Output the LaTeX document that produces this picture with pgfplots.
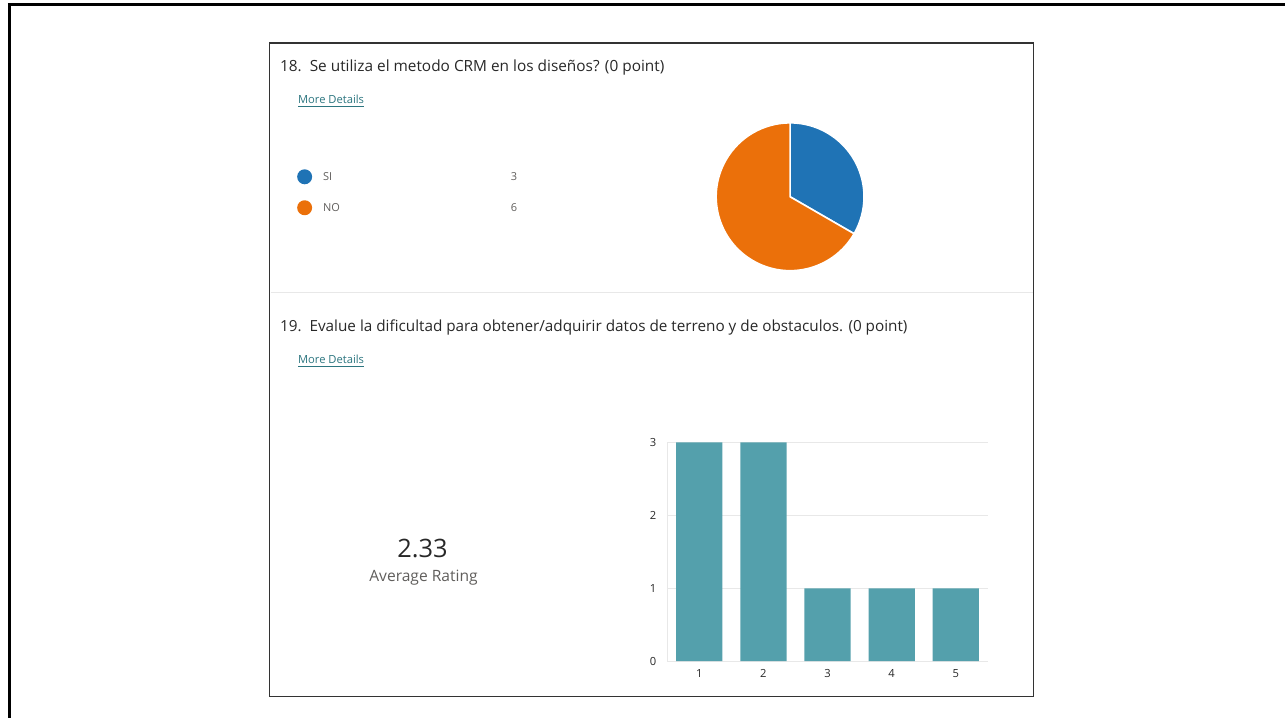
\documentclass[border=0pt]{standalone}
\usepackage{pgfplots}
\pgfplotsset{compat=1.18}
\usepackage{pgfplotstable}
\usepackage{fontspec}
\setmainfont{Open Sans}
\definecolor{pieblue}{RGB}{31,115,181}
\definecolor{pieorange}{RGB}{235,112,10}
\definecolor{barteal}{RGB}{84,160,172}
\definecolor{linkteal}{RGB}{45,118,128}
\definecolor{txtgray}{RGB}{96,94,92}
\definecolor{txtdark}{RGB}{40,40,40}
\definecolor{gridgray}{RGB}{232,232,232}

\pgfplotstableread{
label count
SI 3
NO 6
}\crmtable
\pgfplotstableread{
rating count
1 3
2 3
3 1
4 1
5 1
}\ratingtable

\begin{document}
\begin{tikzpicture}[x=0.5pt, y=-0.5pt]
\path (0,0) rectangle (1286,719);
% outer slide frame
\draw[line width=1.5pt] (8,5) -- (1286,5);
\draw[line width=1.5pt] (10,5) -- (10,719);
% form panel
\draw[line width=0.6pt, black!80] (270,43) rectangle (1035,697);
\draw[gridgray, line width=0.5pt] (271,293) -- (1034,293);
\coordinate (piec) at (791,197);
\coordinate (barsw) at (668,662);

% question 18
\node[anchor=base west, inner sep=0, txtdark, font=\fontsize{7.7}{9}\selectfont] at (280,72)
  {18.\ \ Se utiliza el metodo CRM en los diseños? (0 point)};
\node[anchor=base west, inner sep=0, linkteal, font=\fontsize{5.6}{7}\selectfont] at (298,104)
  {\underline{More Details}};
\fill[pieblue] (305,177) circle[radius=7.5];
\fill[pieorange] (305,208) circle[radius=7.5];
\node[anchor=base west, inner sep=0, txtgray, font=\fontsize{5.5}{6}\selectfont] at (323,181) {SI};
\node[anchor=base west, inner sep=0, txtgray, font=\fontsize{5.5}{6}\selectfont] at (323,212) {NO};
\node[anchor=base west, inner sep=0, txtgray, font=\fontsize{5.5}{6}\selectfont] at (511,181) {3};
\node[anchor=base west, inner sep=0, txtgray, font=\fontsize{5.5}{6}\selectfont] at (511,212) {6};

\pgfplotstablegetelem{0}{count}\of\crmtable \let\nsi\pgfplotsretval
\pgfplotstablegetelem{1}{count}\of\crmtable \let\nno\pgfplotsretval
\pgfmathsetmacro\asi{360*\nsi/(\nsi+\nno)}
\begin{axis}[at={(piec)}, anchor=center, scale only axis,
  width=74pt, height=74pt, xmin=-1, xmax=1, ymin=-1, ymax=1,
  axis lines=none, clip=false]
  \filldraw[pieblue, draw=white, line width=0.8pt] (axis cs:0,0) -- ++(90:37pt)
    arc[start angle=90, end angle={90-\asi}, radius=37pt] -- cycle;
  \filldraw[pieorange, draw=white, line width=0.8pt] (axis cs:0,0) -- ++({90-\asi}:37pt)
    arc[start angle={90-\asi}, end angle=-270, radius=37pt] -- cycle;
\end{axis}

% question 19
\node[anchor=base west, inner sep=0, txtdark, font=\fontsize{7.65}{9}\selectfont] at (280,332)
  {19.\ \ Evalue la dificultad para obtener/adquirir datos de terreno y de obstaculos. (0 point)};
\node[anchor=base west, inner sep=0, linkteal, font=\fontsize{5.6}{7}\selectfont] at (298,364)
  {\underline{More Details}};
\node[anchor=base, inner sep=0, txtdark, font=\fontsize{12.7}{14}\selectfont] at (423,558) {2.33};
\node[anchor=base, inner sep=0, txtgray, font=\fontsize{7.8}{9}\selectfont] at (424,582) {Average Rating};

\begin{axis}[at={(barsw)}, anchor=south west, scale only axis,
  width=160.5pt, height=109.5pt,
  xmin=0.5, xmax=5.5, ymin=0, ymax=3,
  xtick={1,2,3,4,5}, ytick={0,1,2,3},
  axis x line*=bottom, axis y line*=left,
  axis line style={gridgray, line width=0.6pt, -},
  ymajorgrids, grid style={gridgray, line width=0.6pt},
  major tick length=0pt,
  tick label style={font=\fontsize{5.6}{6}\selectfont, text=txtdark},
  /pgf/number format/assume math mode=true,
  xticklabel style={yshift=-0.5pt},
  yticklabel style={xshift=-2pt},
  ybar, bar width=0.72, bar shift=0pt]
  \addplot[fill=barteal, draw=none] table[x=rating, y=count] {\ratingtable};
\end{axis}
\end{tikzpicture}
\end{document}
